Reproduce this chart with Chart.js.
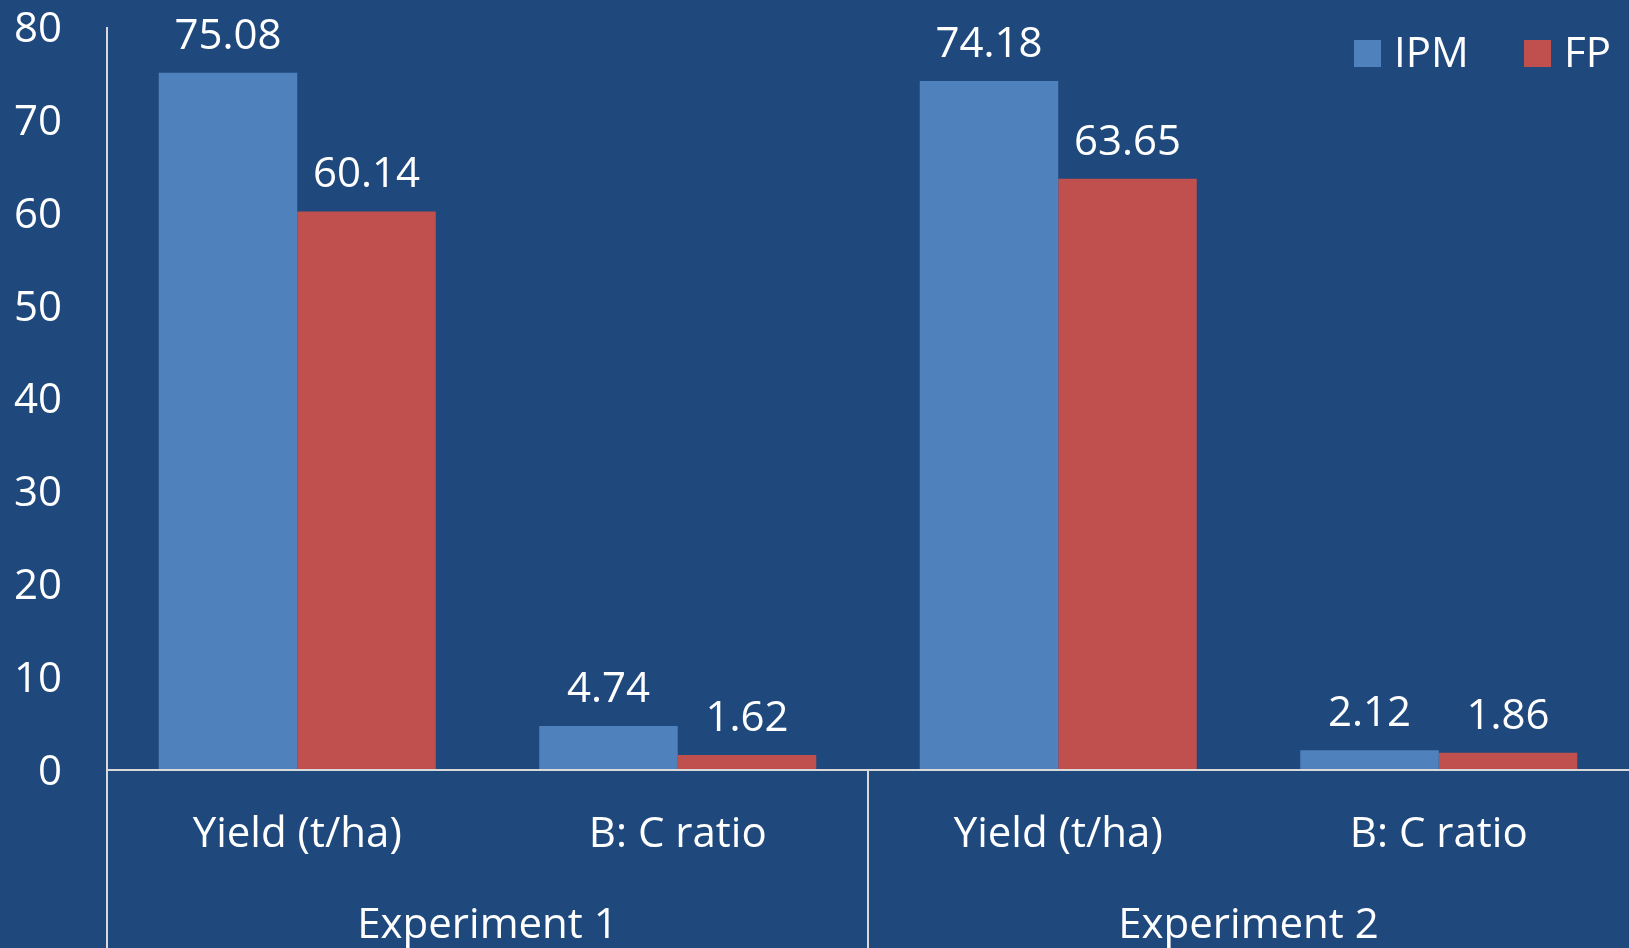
<!DOCTYPE html>
<html>
<head>
<meta charset="utf-8">
<script src="https://cdn.jsdelivr.net/npm/chart.js@4/dist/chart.umd.min.js"></script>
<style>
html,body{margin:0;padding:0;background:#1F497D;}
#wrap{width:1629px;height:948px;position:relative;}
</style>
</head>
<body>
<div id="wrap"><canvas id="c" width="1629" height="948"></canvas></div>
<script>
const categories = ["Yield (t/ha)", "B: C ratio", "Yield (t/ha)", "B: C ratio"];
const groups = ["Experiment 1", "Experiment 2"];
const ipm = [75.08, 4.74, 74.18, 2.12];
const fp = [60.14, 1.62, 63.65, 1.86];
const yTicks = [0, 10, 20, 30, 40, 50, 60, 70, 80];

const FONT = "'Open Sans', sans-serif";
const FS = 42;
const LINE = '#D9D9D9';

const decorPlugin = {
  id: 'decor',
  afterDatasetsDraw(chart) {
    const ctx = chart.ctx;
    const ca = chart.chartArea;
    const y = chart.scales.y;
    const x2 = chart.scales.x2;
    const H = chart.height;
    ctx.save();
    ctx.strokeStyle = LINE;
    ctx.lineWidth = 2;
    ctx.beginPath();
    ctx.moveTo(ca.left, ca.top);
    ctx.lineTo(ca.left, H);
    ctx.stroke();
    const y0 = y.getPixelForValue(0);
    ctx.beginPath();
    ctx.moveTo(ca.left, y0);
    ctx.lineTo(chart.width, y0);
    ctx.stroke();
    const mid = (x2.getPixelForValue(0) + x2.getPixelForValue(1)) / 2;
    ctx.beginPath();
    ctx.moveTo(mid, y0);
    ctx.lineTo(mid, H);
    ctx.stroke();
    ctx.fillStyle = '#FFFFFF';
    ctx.font = FS + 'px ' + FONT;
    ctx.textAlign = 'center';
    ctx.textBaseline = 'middle';
    chart.data.datasets.forEach((ds, di) => {
      const meta = chart.getDatasetMeta(di);
      meta.data.forEach((bar, i) => {
        ctx.fillText(ds.data[i].toFixed(2), bar.x, bar.y - 36);
      });
    });
    const legendItems = chart.data.datasets.map(d => ({label: d.label, color: d.backgroundColor}));
    const positions = [1354, 1524];
    legendItems.forEach((it, k) => {
      const lx = positions[k];
      ctx.fillStyle = it.color;
      ctx.fillRect(lx, 40, 27, 27);
      ctx.fillStyle = '#FFFFFF';
      ctx.textAlign = 'left';
      ctx.fillText(it.label, lx + 40, 55);
    });
    ctx.restore();
  }
};

new Chart(document.getElementById('c'), {
  type: 'bar',
  data: {
    labels: categories,
    datasets: [
      {label: 'IPM', data: ipm, backgroundColor: '#4F81BD', borderWidth: 0},
      {label: 'FP', data: fp, backgroundColor: '#C0504D', borderWidth: 0}
    ]
  },
  options: {
    responsive: false,
    animation: false,
    devicePixelRatio: 1,
    layout: {padding: 0},
    datasets: {bar: {categoryPercentage: 0.728, barPercentage: 1.0}},
    plugins: {legend: {display: false}, tooltip: {enabled: false}},
    scales: {
      y: {
        min: 0, max: 80,
        afterBuildTicks(scale) { scale.ticks = yTicks.map(v => ({value: v})); },
        afterFit(scale) { scale.width = 107; scale.paddingTop = 27; scale.paddingBottom = 0; },
        grid: {display: false, drawTicks: false},
        border: {display: false},
        ticks: {color: '#FFFFFF', padding: 45, labelOffset: 3, font: {family: FONT, size: FS}}
      },
      x: {
        position: 'bottom',
        afterFit(scale) { scale.height = 90; scale.paddingLeft = 0; scale.paddingRight = 0; },
        grid: {display: false, drawTicks: false},
        border: {display: false},
        ticks: {color: '#FFFFFF', padding: 40, maxRotation: 0, autoSkip: false, font: {family: FONT, size: FS}}
      },
      x2: {
        type: 'category',
        labels: groups,
        offset: true,
        position: 'bottom',
        afterFit(scale) { scale.height = 88; scale.paddingLeft = 0; scale.paddingRight = 0; },
        grid: {display: false, drawTicks: false},
        border: {display: false},
        ticks: {color: '#FFFFFF', padding: 41, maxRotation: 0, autoSkip: false, font: {family: FONT, size: FS}}
      }
    }
  },
  plugins: [decorPlugin]
});
</script>
</body>
</html>
